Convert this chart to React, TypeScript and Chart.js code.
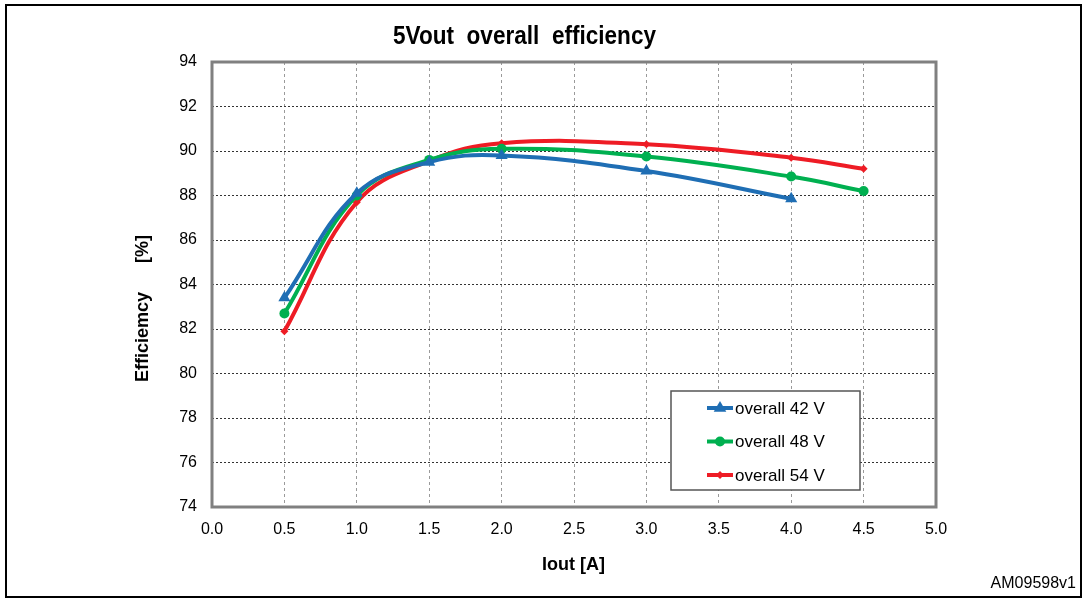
import React, { useEffect, useRef } from 'react';
import { Chart, registerables } from 'chart.js';

Chart.register(...registerables);

const xValues = [0.5, 1.0, 1.5, 2.0, 3.0, 4.0, 4.5];
const eff42 = [83.4, 88.1, 89.5, 89.8, 89.1, 87.85];
const eff48 = [82.7, 88.0, 89.6, 90.1, 89.75, 88.85, 88.2];
const eff54 = [81.9, 87.7, 89.55, 90.35, 90.3, 89.7, 89.2];
const seriesLabels = ['overall 42 V', 'overall 48 V', 'overall 54 V'];
const seriesColors = ['#1F6EB4', '#00B050', '#EE1C25'];
const titleText = '5Vout  overall  efficiency';
const yTitle = 'Efficiemcy  [%]';
const xTitle = 'Iout [A]';
const refText = 'AM09598v1';

const FONT = '"Liberation Sans", Arial, sans-serif';

const toPoints = (vals: number[]) => vals.map((v, i) => ({ x: xValues[i], y: v }));

function fitText(ctx: any, text: string, x: number, y: number, targetW: number) {
  const w = ctx.measureText(text).width;
  ctx.save();
  ctx.translate(x, y);
  ctx.scale(targetW / w, 1);
  ctx.textAlign = 'center';
  ctx.textBaseline = 'middle';
  ctx.fillText(text, 0, 0);
  ctx.restore();
}

const decorPlugin = {
  id: 'decor',
  beforeDatasetsDraw(chart: any) {
    const { ctx, chartArea } = chart;
    ctx.save();
    ctx.strokeStyle = '#808080';
    ctx.lineWidth = 3;
    ctx.strokeRect(chartArea.left, chartArea.top, chartArea.right - chartArea.left, chartArea.bottom - chartArea.top);
    ctx.restore();
  },
  afterDraw(chart: any) {
    const { ctx } = chart;
    ctx.save();
    ctx.strokeStyle = '#000';
    ctx.lineWidth = 2;
    ctx.strokeRect(6, 5, 1075, 592);
    ctx.fillStyle = '#000';
    ctx.font = 'bold 25px ' + FONT;
    fitText(ctx, titleText, 524.5, 37, 263);
    // y title in two parts
    ctx.font = 'bold 18px ' + FONT;
    ctx.textBaseline = 'middle';
    const parts = yTitle.split('  ');
    ctx.save();
    ctx.translate(143, 382);
    ctx.rotate(-Math.PI / 2);
    ctx.textAlign = 'left';
    ctx.fillText(parts[0], 0, 0);
    ctx.restore();
    ctx.save();
    ctx.translate(143, 235);
    ctx.rotate(-Math.PI / 2);
    ctx.textAlign = 'right';
    ctx.fillText(parts[1], 0, 0);
    ctx.restore();
    ctx.textAlign = 'center';
    ctx.fillText(xTitle, 573.5, 565);
    ctx.font = '16px ' + FONT;
    ctx.textAlign = 'right';
    ctx.fillText(refText, 1076, 584);
    const lx = 671, ly = 391, lw = 189, lh = 99;
    ctx.fillStyle = '#fff';
    ctx.fillRect(lx, ly, lw, lh);
    ctx.strokeStyle = '#555';
    ctx.lineWidth = 1.5;
    ctx.strokeRect(lx, ly, lw, lh);
    const rows = [408, 441.5, 475];
    chart.data.datasets.forEach((ds: any, i: number) => {
      const y = rows[i];
      ctx.strokeStyle = ds.borderColor;
      ctx.lineWidth = 4;
      ctx.beginPath();
      ctx.moveTo(707, y);
      ctx.lineTo(733, y);
      ctx.stroke();
      ctx.fillStyle = ds.borderColor;
      const r = ds.pointRadius;
      ctx.beginPath();
      if (ds.pointStyle === 'triangle') {
        ctx.moveTo(720, y - r);
        ctx.lineTo(720 + r * 0.9, y + r * 0.55);
        ctx.lineTo(720 - r * 0.9, y + r * 0.55);
        ctx.closePath();
      } else if (ds.pointStyle === 'circle') {
        ctx.arc(720, y, r, 0, Math.PI * 2);
      } else {
        ctx.moveTo(720, y - r);
        ctx.lineTo(720 + r, y);
        ctx.lineTo(720, y + r);
        ctx.lineTo(720 - r, y);
        ctx.closePath();
      }
      ctx.fill();
      ctx.fillStyle = '#000';
      ctx.font = '17px ' + FONT;
      ctx.textAlign = 'left';
      ctx.textBaseline = 'middle';
      ctx.fillText(ds.label, 735, y + 1);
    });
    ctx.restore();
  },
};

export default function App() {
  const ref = useRef<HTMLCanvasElement | null>(null);
  useEffect(() => {
    document.body.style.margin = '0';
    const canvas = ref.current;
    if (!canvas) return;
    const mk = (label: string, vals: number[], color: string, style: string, r: number) => ({
      label,
      data: toPoints(vals),
      borderColor: color,
      backgroundColor: color,
      borderWidth: 4,
      pointStyle: style,
      pointRadius: r,
      pointBorderWidth: 0,
      pointBackgroundColor: color,
      tension: 0.4,
      fill: false,
    });
    const chart = new Chart(canvas, {
      type: 'line',
      data: {
        datasets: [
          mk(seriesLabels[0], eff42, seriesColors[0], 'triangle', 7),
          mk(seriesLabels[1], eff48, seriesColors[1], 'circle', 5),
          mk(seriesLabels[2], eff54, seriesColors[2], 'rectRot', 4),
        ],
      },
      options: {
        responsive: false,
        animation: false,
        devicePixelRatio: 1,
        layout: { padding: { left: 0, top: 62, right: 147, bottom: 0 } },
        plugins: { legend: { display: false }, title: { display: false }, tooltip: { enabled: false } },
        scales: {
          x: {
            type: 'linear',
            min: 0,
            max: 5,
            afterFit: (s: any) => { s.height = 92; s.paddingLeft = 0; s.paddingRight = 0; },
            ticks: {
              stepSize: 0.5,
              color: '#000',
              font: { family: FONT, size: 16 },
              padding: 13,
              maxRotation: 0,
              autoSkip: false,
              callback: (v: any) => Number(v).toFixed(1),
            },
            grid: { color: '#9a9a9a', lineWidth: 1, drawTicks: false },
            border: { display: false, dash: [3, 3] },
          },
          y: {
            type: 'linear',
            min: 74,
            max: 94,
            afterFit: (s: any) => { s.width = 212; s.paddingTop = 0; s.paddingBottom = 0; },
            ticks: {
              stepSize: 2,
              color: '#000',
              font: { family: FONT, size: 16 },
              padding: 15,
            },
            grid: { color: '#333', lineWidth: 1, drawTicks: false },
            border: { display: false, dash: [2, 2] },
          },
        },
      },
      plugins: [decorPlugin],
    } as any);
    return () => chart.destroy();
  }, []);
  return (
    <div style={{ position: 'fixed', left: 0, top: 0, width: 1083, height: 599, background: '#fff' }}>
      <canvas ref={ref} width={1083} height={599} style={{ width: 1083, height: 599 }} />
    </div>
  );
}
